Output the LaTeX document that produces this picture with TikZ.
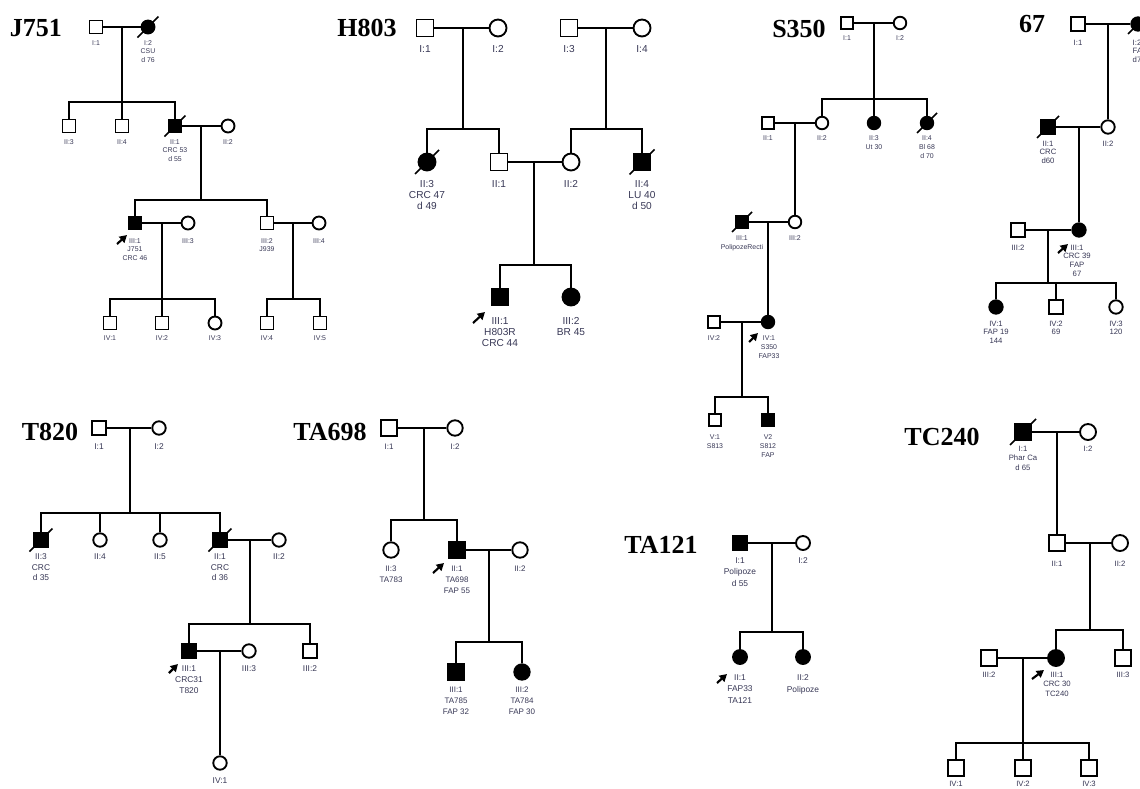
\documentclass[tikz,border=0pt]{standalone}
\usepackage{fontspec}
\setmainfont{Liberation Sans}
\newfontfamily\titlefont{Liberation Serif}
\usetikzlibrary{arrows.meta}

\definecolor{labelgray}{RGB}{55,55,85}

\tikzset{every picture/.style={line width=1.1pt}}
\tikzset{
  sym/.style={draw, line width=1.4pt, inner sep=0pt, minimum size=9.75pt},
  male/.style={sym, rectangle},
  female/.style={sym, circle},
  aff/.style={fill=black},
  slash/.style={line width=1.2pt},
  proband/.style={-{Triangle[length=5.5pt,width=6pt]}, line width=1.6pt},
  lbl/.style={anchor=north, inner sep=0pt, align=center, text=labelgray},
  famname/.style={inner sep=0pt, font=\titlefont\bfseries\fontsize{19.5}{20}\selectfont},
}

\begin{document}
\begin{tikzpicture}[x=0.75pt,y=0.75pt,yscale=-1,xscale=1]
\useasboundingbox (0,0) rectangle (1140,789);

%Family J751
\begin{scope}[sym/.append style={minimum size=9.75pt}, lbl/.append style={font=\fontsize{5.2}{6.4}\selectfont}]
\node[famname] (j-name) at (36,28) {J751};
\node[male] (j-I1) at (96,27) {};
\node[female, aff] (j-I2) at (148,27) {};
\coordinate (j-c1) at (122,27);
\coordinate (j-s1) at (122,102);
\node[male] (j-II3) at (69,126) {};
\node[male] (j-II4) at (122,126) {};
\node[male, aff] (j-II1) at (175,126) {};
\node[female] (j-II2) at (228,126) {};
\coordinate (j-c2) at (201,126);
\coordinate (j-s2) at (201,200);
\node[male, aff] (j-III1) at (135,223) {};
\node[female] (j-III3) at (188,223) {};
\node[male] (j-III2) at (267,223) {};
\node[female] (j-III4) at (319,223) {};
\coordinate (j-c3) at (162,223);
\coordinate (j-s3) at (162,299);
\coordinate (j-c4) at (293,223);
\coordinate (j-s4) at (293,299);
\node[male] (j-IV1) at (110,323) {};
\node[male] (j-IV2) at (162,323) {};
\node[female] (j-IV3) at (215,323) {};
\node[male] (j-IV4) at (267,323) {};
\node[male] (j-IV5) at (320,323) {};
\draw (j-I1) -- (j-I2);
\draw (j-c1) -- (j-II4);
\draw (j-II3) |- (j-s1) -| (j-II1);
\draw (j-II1) -- (j-II2);
\draw (j-c2) -- (j-s2);
\draw (j-III1) |- (j-s2) -| (j-III2);
\draw (j-III1) -- (j-III3);
\draw (j-III2) -- (j-III4);
\draw (j-c3) -- (j-IV2);
\draw (j-IV1) |- (j-s3) -| (j-IV3);
\draw (j-c4) -- (j-s4);
\draw (j-IV4) |- (j-s4) -| (j-IV5);
\draw[slash] (j-I2.center) ++(-10.5,10.5) -- ++(21,-21);
\draw[slash] (j-II1.center) ++(-10.5,10.5) -- ++(21,-21);
\draw[proband] (117,244) -- (127,235);
\node[lbl] at (96,39.5) {I:1};
\node[lbl] at (148,39.5) {I:2\\CSU\\d 76};
\node[lbl] at (69,138.5) {II:3};
\node[lbl] at (122,138.5) {II:4};
\node[lbl] at (175,138.5) {II:1\\CRC 53\\d 55};
\node[lbl] at (228,138.5) {II:2};
\node[lbl] at (135,237.5) {III:1\\J751\\CRC 46};
\node[lbl] at (188,237.5) {III:3};
\node[lbl] at (267,237.5) {III:2\\J939};
\node[lbl] at (319,237.5) {III:4};
\node[lbl] at (110,334.5) {IV:1};
\node[lbl] at (162,334.5) {IV:2};
\node[lbl] at (215,334.5) {IV:3};
\node[lbl] at (267,334.5) {IV:4};
\node[lbl] at (320,334.5) {IV:5};
\end{scope}

%Family H803
\begin{scope}[sym/.append style={minimum size=12.75pt}, lbl/.append style={font=\fontsize{7.6}{8.25}\selectfont}]
\node[famname] (h-name) at (367,28) {H803};
\node[male] (h-I1) at (425,28) {};
\node[female] (h-I2) at (498,28) {};
\node[male] (h-I3) at (569,28) {};
\node[female] (h-I4) at (642,28) {};
\coordinate (h-c1) at (463,28);
\coordinate (h-s1) at (463,129);
\coordinate (h-c2) at (606,28);
\coordinate (h-s2) at (606,129);
\node[female, aff] (h-II3) at (427,162) {};
\node[male] (h-II1) at (499,162) {};
\node[female] (h-II2) at (571,162) {};
\node[male, aff] (h-II4) at (642,162) {};
\coordinate (h-c3) at (534,162);
\coordinate (h-s3) at (534,265);
\node[male, aff] (h-III1) at (500,297) {};
\node[female, aff] (h-III2) at (571,297) {};
\draw (h-I1) -- (h-I2);
\draw (h-I3) -- (h-I4);
\draw (h-c1) -- (h-s1);
\draw (h-c2) -- (h-s2);
\draw (h-II3) |- (h-s1) -| (h-II1);
\draw (h-II2) |- (h-s2) -| (h-II4);
\draw (h-II1) -- (h-II2);
\draw (h-c3) -- (h-s3);
\draw (h-III1) |- (h-s3) -| (h-III2);
\draw[slash] (h-II3.center) ++(-12,12) -- ++(24,-24);
\draw[slash] (h-II4.center) ++(-12.5,12.5) -- ++(25,-25);
\draw[proband] (473,323) -- (485,312);
\node[lbl] at (425,44.4) {I:1};
\node[lbl] at (498,44.4) {I:2};
\node[lbl] at (569,44.4) {I:3};
\node[lbl] at (642,44.4) {I:4};
\node[lbl] at (427,179.4) {II:3\\CRC 47\\d 49};
\node[lbl] at (499,179.4) {II:1};
\node[lbl] at (571,179.4) {II:2};
\node[lbl] at (642,179.4) {II:4\\LU 40\\d 50};
\node[lbl] at (500,316.4) {III:1\\H803R\\CRC 44};
\node[lbl] at (571,316.4) {III:2\\BR 45};
\end{scope}

%Family S350
\begin{scope}[sym/.append style={minimum size=9.4pt}, lbl/.append style={font=\fontsize{5.2}{6.75}\selectfont}]
\node[famname] (s-name) at (799,29) {S350};
\node[male] (s-I1) at (847,23) {};
\node[female] (s-I2) at (900,23) {};
\coordinate (s-c1) at (874,23);
\coordinate (s-s1) at (874,99);
\node[male] (s-II1) at (768,123) {};
\node[female] (s-II2) at (822,123) {};
\node[female, aff] (s-II3) at (874,123) {};
\node[female, aff] (s-II4) at (927,123) {};
\coordinate (s-c2) at (795,123);
\node[male, aff] (s-III1) at (742,222) {};
\node[female] (s-III2) at (795,222) {};
\coordinate (s-c3) at (768,222);
\node[male] (s-IV2) at (714,322) {};
\node[female, aff] (s-IV1) at (768,322) {};
\coordinate (s-c4) at (742,322);
\coordinate (s-s4) at (742,397);
\node[male] (s-V1) at (715,420) {};
\node[male, aff] (s-V2) at (768,420) {};
\draw (s-I1) -- (s-I2);
\draw (s-c1) -- (s-II3);
\draw (s-II2) |- (s-s1) -| (s-II4);
\draw (s-II1) -- (s-II2);
\draw (s-c2) -- (s-III2);
\draw (s-III1) -- (s-III2);
\draw (s-c3) -- (s-IV1);
\draw (s-IV2) -- (s-IV1);
\draw (s-c4) -- (s-s4);
\draw (s-V1) |- (s-s4) -| (s-V2);
\draw[slash] (s-II4.center) ++(-10,10) -- ++(20,-20);
\draw[slash] (s-III1.center) ++(-10,10) -- ++(20,-20);
\draw[proband] (749,342) -- (758,333);
\node[lbl] at (847,34.5) {I:1};
\node[lbl] at (900,34.5) {I:2};
\node[lbl] at (768,134.5) {II:1};
\node[lbl] at (822,134.5) {II:2};
\node[lbl] at (874,134.5) {II:3\\Ut 30};
\node[lbl] at (927,134.5) {II:4\\Bl 68\\d 70};
\node[lbl] at (742,234.5) {III:1\\PolipozeRecti};
\node[lbl] at (795,234.5) {III:2};
\node[lbl] at (714,334.5) {IV:2};
\node[lbl] at (769,334.5) {IV:1\\S350\\FAP33};
\node[lbl] at (715,433.5) {V:1\\S813};
\node[lbl] at (768,433.5) {V2\\S812\\FAP};
\end{scope}

%Family 67
\begin{scope}[sym/.append style={minimum size=10.1pt}, lbl/.append style={font=\fontsize{5.8}{6.6}\selectfont}]
\node[famname] (g-name) at (1032,24) {67};
\node[male] (g-I1) at (1078,24) {};
\node[female, aff] (g-I2) at (1138,24) {};
\coordinate (g-c1) at (1108,24);
\node[male, aff] (g-II1) at (1048,127) {};
\node[female] (g-II2) at (1108,127) {};
\coordinate (g-c2) at (1079,127);
\node[male] (g-III2) at (1018,230) {};
\node[female, aff] (g-III1) at (1079,230) {};
\coordinate (g-c3) at (1048,230);
\coordinate (g-s3) at (1048,283);
\node[female, aff] (g-IV1) at (996,307) {};
\node[male] (g-IV2) at (1056,307) {};
\node[female] (g-IV3) at (1116,307) {};
\draw (g-I1) -- (g-I2);
\draw (g-c1) -- (g-II2);
\draw (g-II1) -- (g-II2);
\draw (g-c2) -- (g-III1);
\draw (g-III2) -- (g-III1);
\draw (g-c3) -- (g-s3);
\draw (g-IV1) |- (g-s3) -| (g-IV3);
\draw (g-IV2) -- (g-IV2 |- g-s3);
\draw[slash] (g-I2.center) ++(-10,10) -- ++(20,-20);
\draw[slash] (g-II1.center) ++(-11,11) -- ++(22,-22);
\draw[proband] (1058,253) -- (1068,244);
\node[lbl] at (1078,39) {I:1};
\node[lbl, anchor=north west, align=left] at (1132,39) {I:2\\FA\\d7};
\node[lbl] at (1048,140) {II:1\\CRC\\d60};
\node[lbl] at (1108,140) {II:2};
\node[lbl] at (1018,244) {III:2};
\node[lbl] at (1077,244) {III:1\\CRC 39\\FAP\\67};
\node[lbl] at (996,320) {IV:1\\FAP 19\\144};
\node[lbl] at (1056,320) {IV:2\\69};
\node[lbl] at (1116,320) {IV:3\\120};
\end{scope}

%Family T820
\begin{scope}[sym/.append style={minimum size=10.1pt}, lbl/.append style={font=\fontsize{6.3}{7.9}\selectfont}]
\node[famname] (t-name) at (50,432) {T820};
\node[male] (t-I1) at (99,428) {};
\node[female] (t-I2) at (159,428) {};
\coordinate (t-c1) at (130,428);
\coordinate (t-s1) at (130,513);
\node[male, aff] (t-II3) at (41,540) {};
\node[female] (t-II4) at (100,540) {};
\node[female] (t-II5) at (160,540) {};
\node[male, aff] (t-II1) at (220,540) {};
\node[female] (t-II2) at (279,540) {};
\coordinate (t-c2) at (250,540);
\coordinate (t-s2) at (250,624);
\node[male, aff] (t-III1) at (189,651) {};
\node[female] (t-III3) at (249,651) {};
\node[male] (t-III2) at (310,651) {};
\coordinate (t-c3) at (220,651);
\node[female] (t-IV1) at (220,763) {};
\draw (t-I1) -- (t-I2);
\draw (t-c1) -- (t-s1);
\draw (t-II3) |- (t-s1) -| (t-II1);
\draw (t-II4) -- (t-II4 |- t-s1);
\draw (t-II5) -- (t-II5 |- t-s1);
\draw (t-II1) -- (t-II2);
\draw (t-c2) -- (t-s2);
\draw (t-III1) |- (t-s2) -| (t-III2);
\draw (t-III1) -- (t-III3);
\draw (t-c3) -- (t-IV1);
\draw[slash] (t-II3.center) ++(-11.5,11.5) -- ++(23,-23);
\draw[slash] (t-II1.center) ++(-11.5,11.5) -- ++(23,-23);
\draw[proband] (169,673) -- (178,664);
\node[lbl] at (99,442.7) {I:1};
\node[lbl] at (159,442.7) {I:2};
\node[lbl] at (41,553) {II:3\\CRC\\d 35};
\node[lbl] at (100,553) {II:4};
\node[lbl] at (160,553) {II:5};
\node[lbl] at (220,553) {II:1\\CRC\\d 36};
\node[lbl] at (279,553) {II:2};
\node[lbl, font=\fontsize{6.3}{8.4}\selectfont] at (189,665) {III:1\\CRC31\\T820};
\node[lbl] at (249,665) {III:3};
\node[lbl] at (310,665) {III:2};
\node[lbl] at (220,777) {IV:1};
\end{scope}

%Family TA698
\begin{scope}[sym/.append style={minimum size=11.6pt}, lbl/.append style={font=\fontsize{6}{8.25}\selectfont}]
\node[famname] (a-name) at (330,432) {TA698};
\node[male] (a-I1) at (389,428) {};
\node[female] (a-I2) at (455,428) {};
\coordinate (a-c1) at (424,428);
\coordinate (a-s1) at (424,520);
\node[female] (a-II3) at (391,550) {};
\node[male, aff] (a-II1) at (457,550) {};
\node[female] (a-II2) at (520,550) {};
\coordinate (a-c2) at (489,550);
\coordinate (a-s2) at (489,642);
\node[male, aff] (a-III1) at (456,672) {};
\node[female, aff] (a-III2) at (522,672) {};
\draw (a-I1) -- (a-I2);
\draw (a-c1) -- (a-s1);
\draw (a-II3) |- (a-s1) -| (a-II1);
\draw (a-II1) -- (a-II2);
\draw (a-c2) -- (a-s2);
\draw (a-III1) |- (a-s2) -| (a-III2);
\draw[proband] (433,573) -- (444,563);
\node[lbl] at (389,443) {I:1};
\node[lbl] at (455,443) {I:2};
\node[lbl] at (391,565) {II:3\\TA783};
\node[lbl] at (457,565) {II:1\\TA698\\FAP 55};
\node[lbl] at (520,565) {II:2};
\node[lbl] at (456,686) {III:1\\TA785\\FAP 32};
\node[lbl] at (522,686) {III:2\\TA784\\FAP 30};
\end{scope}

%Family TA121
\begin{scope}[sym/.append style={minimum size=10.5pt}, lbl/.append style={font=\fontsize{6.3}{8.6}\selectfont}]
\node[famname] (b-name) at (661,545) {TA121};
\node[male, aff] (b-I1) at (740,543) {};
\node[female] (b-I2) at (803,543) {};
\coordinate (b-c1) at (772,543);
\coordinate (b-s1) at (772,632);
\node[female, aff] (b-II1) at (740,657) {};
\node[female, aff] (b-II2) at (803,657) {};
\draw (b-I1) -- (b-I2);
\draw (b-c1) -- (b-s1);
\draw (b-II1) |- (b-s1) -| (b-II2);
\draw[proband] (717,683) -- (727,674);
\node[lbl] at (740,557) {I:1\\Polipoze\\d 55};
\node[lbl] at (803,557) {I:2};
\node[lbl] at (740,674) {II:1\\FAP33\\TA121};
\node[lbl] at (803,674) {II:2\\Polipoze};
\end{scope}

%Family TC240
\begin{scope}[sym/.append style={minimum size=12pt}, lbl/.append style={font=\fontsize{5.8}{7.3}\selectfont}]
\node[famname] (c-name) at (942,437) {TC240};
\node[male, aff] (c-I1) at (1023,432) {};
\node[female] (c-I2) at (1088,432) {};
\coordinate (c-c1) at (1057,432);
\node[male] (c-II1) at (1057,543) {};
\node[female] (c-II2) at (1120,543) {};
\coordinate (c-c2) at (1090,543);
\coordinate (c-s2) at (1090,630);
\node[male] (c-III2) at (989,658) {};
\node[female, aff] (c-III1) at (1056,658) {};
\node[male] (c-III3) at (1123,658) {};
\coordinate (c-c3) at (1023,658);
\coordinate (c-s3) at (1023,743);
\node[male] (c-IV1) at (956,768) {};
\node[male] (c-IV2) at (1023,768) {};
\node[male] (c-IV3) at (1089,768) {};
\draw (c-I1) -- (c-I2);
\draw (c-c1) -- (c-II1);
\draw (c-II1) -- (c-II2);
\draw (c-c2) -- (c-s2);
\draw (c-III1) |- (c-s2) -| (c-III3);
\draw (c-III2) -- (c-III1);
\draw (c-c3) -- (c-IV2);
\draw (c-IV1) |- (c-s3) -| (c-IV3);
\draw[slash] (c-I1.center) ++(-13,13) -- ++(26,-26);
\draw[proband] (1032,679) -- (1044,670);
\node[lbl] at (1023,445) {I:1\\Phar Ca\\d 65};
\node[lbl] at (1088,445) {I:2};
\node[lbl] at (1057,560) {II:1};
\node[lbl] at (1120,560) {II:2};
\node[lbl] at (989,671) {III:2};
\node[lbl] at (1057,671) {III:1\\CRC 30\\TC240};
\node[lbl] at (1123,671) {III:3};
\node[lbl] at (956,780.5) {IV:1};
\node[lbl] at (1023,780.5) {IV:2};
\node[lbl] at (1089,780.5) {IV:3};
\end{scope}
\end{tikzpicture}
\end{document}
